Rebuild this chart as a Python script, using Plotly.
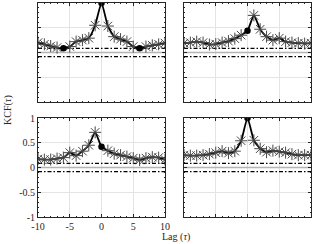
import plotly.graph_objects as go

lags = list(range(-10, 11))

kcf_top_left = [0.20, 0.165, 0.13, 0.10, 0.085, 0.12, 0.22, 0.25, 0.29, 0.55, 1.0,
                0.535, 0.32, 0.27, 0.22, 0.12, 0.085, 0.12, 0.145, 0.165, 0.19]
dots_top_left = [-6, 0, 6]

kcf_top_right = [0.19, 0.20, 0.22, 0.20, 0.16, 0.17, 0.20, 0.23, 0.28, 0.35, 0.44,
                 0.75, 0.47, 0.32, 0.25, 0.29, 0.22, 0.20, 0.19, 0.18, 0.19]
dots_top_right = [0]

kcf_bottom_left = [0.17, 0.16, 0.16, 0.18, 0.20, 0.30, 0.24, 0.33, 0.45, 0.71, 0.42,
                   0.34, 0.28, 0.25, 0.22, 0.19, 0.15, 0.19, 0.21, 0.20, 0.16]
dots_bottom_left = [0]

kcf_bottom_right = [0.25, 0.24, 0.24, 0.25, 0.27, 0.30, 0.33, 0.29, 0.33, 0.54, 1.0,
                    0.55, 0.38, 0.31, 0.34, 0.32, 0.30, 0.27, 0.25, 0.25, 0.25]
dots_bottom_right = [0]

conf_bound = 0.085

x_ticks = [-10, -5, 0, 5, 10]
y_ticks = [-1, -0.5, 0, 0.5, 1]
y_tick_labels = ["-1", "-0.5", "0", "0.5", "1"]
x_tick_labels = ["-10", "-5", "0", "5", "10"]

panels = [
    (kcf_top_left, dots_top_left, "x", "y"),
    (kcf_top_right, dots_top_right, "x2", "y2"),
    (kcf_bottom_left, dots_bottom_left, "x3", "y3"),
    (kcf_bottom_right, dots_bottom_right, "x4", "y4"),
]

W, H = 316, 244
x_dom_left = [38 / W, 165 / W]
x_dom_right = [184 / W, 311 / W]
y_dom_top = [(H - 102) / H, (H - 3) / H]
y_dom_bot = [(H - 217) / H, (H - 118) / H]

fig = go.Figure()
for vals, dots, xa, ya in panels:
    fig.add_trace(go.Scatter(x=[lags[0], lags[-1]], y=[0, 0], mode="lines",
                             line=dict(color="#b4b4b4", width=1.6), xaxis=xa, yaxis=ya,
                             showlegend=False, hoverinfo="skip"))
    for b in (conf_bound, -conf_bound):
        fig.add_trace(go.Scatter(x=[lags[0], lags[-1]], y=[b, b], mode="lines",
                                 line=dict(color="black", width=1.3, dash="4px,2px,1.5px,2px"),
                                 xaxis=xa, yaxis=ya, showlegend=False, hoverinfo="skip"))
    fig.add_trace(go.Scatter(x=lags, y=vals, mode="lines",
                             line=dict(color="black", width=1.8, shape="spline", smoothing=0.5),
                             xaxis=xa, yaxis=ya, showlegend=False))
    sx = [l for l in lags if l not in dots]
    sy = [v for l, v in zip(lags, vals) if l not in dots]
    fig.add_trace(go.Scatter(x=sx, y=sy, mode="markers",
                             marker=dict(symbol="asterisk-open", size=10, color="#474747",
                                         line=dict(color="#474747", width=1)),
                             xaxis=xa, yaxis=ya, showlegend=False))
    dy = [vals[lags.index(d)] for d in dots]
    fig.add_trace(go.Scatter(x=dots, y=dy, mode="markers",
                             marker=dict(symbol="circle", size=6.5, color="black"),
                             xaxis=xa, yaxis=ya, showlegend=False))

font_family = "Liberation Serif"

def xax(domain, anchor, show):
    return dict(domain=domain, anchor=anchor, range=[-10, 10], tickvals=x_ticks,
                ticktext=x_tick_labels, showticklabels=show, ticks="inside", ticklen=3,
                tickcolor="#262626", showline=True, linecolor="#262626", linewidth=0.8,
                mirror="allticks", showgrid=True, gridcolor="#e4e4e4", gridwidth=0.8,
                zeroline=False, automargin=False,
                tickfont=dict(family=font_family, size=10, color="#262626"),
                minor=dict(dtick=1, ticks="inside", ticklen=1.5, tickcolor="#262626",
                           showgrid=False))

def yax(domain, anchor, show):
    return dict(domain=domain, anchor=anchor, range=[-1, 1], tickvals=y_ticks,
                ticktext=y_tick_labels, showticklabels=show, ticks="inside", ticklen=3,
                tickcolor="#262626", showline=True, linecolor="#262626", linewidth=0.8,
                mirror="allticks", showgrid=True, gridcolor="#e4e4e4", gridwidth=0.8,
                zeroline=False, automargin=False,
                tickfont=dict(family=font_family, size=10, color="#262626"),
                minor=dict(dtick=0.1, ticks="inside", ticklen=1.5, tickcolor="#262626",
                           showgrid=False))

fig.update_layout(
    width=W, height=H, margin=dict(l=0, r=0, t=0, b=0, autoexpand=False),
    paper_bgcolor="white", plot_bgcolor="white",
    xaxis=xax(x_dom_left, "y", False), yaxis=yax(y_dom_top, "x", False),
    xaxis2=xax(x_dom_right, "y2", False), yaxis2=yax(y_dom_top, "x2", False),
    xaxis3=xax(x_dom_left, "y3", True), yaxis3=yax(y_dom_bot, "x3", True),
    xaxis4=xax(x_dom_right, "y4", False), yaxis4=yax(y_dom_bot, "x4", False),
    annotations=[
        dict(text="Lag (<i>τ</i>)", x=176 / W, y=(H - 237) / H, xref="paper", yref="paper",
             xanchor="center", yanchor="middle",
             showarrow=False, font=dict(family=font_family, size=10, color="#262626")),
        dict(text="KCF(<i>τ</i>)", x=8 / W, y=(H - 110) / H, xref="paper", yref="paper",
             xanchor="center", yanchor="middle",
             showarrow=False, textangle=-90,
             font=dict(family=font_family, size=10, color="#262626")),
    ],
)

fig.write_html("out.html", config={"displayModeBar": False},
               post_script="document.body.style.margin='0';document.body.style.overflow='hidden';")
